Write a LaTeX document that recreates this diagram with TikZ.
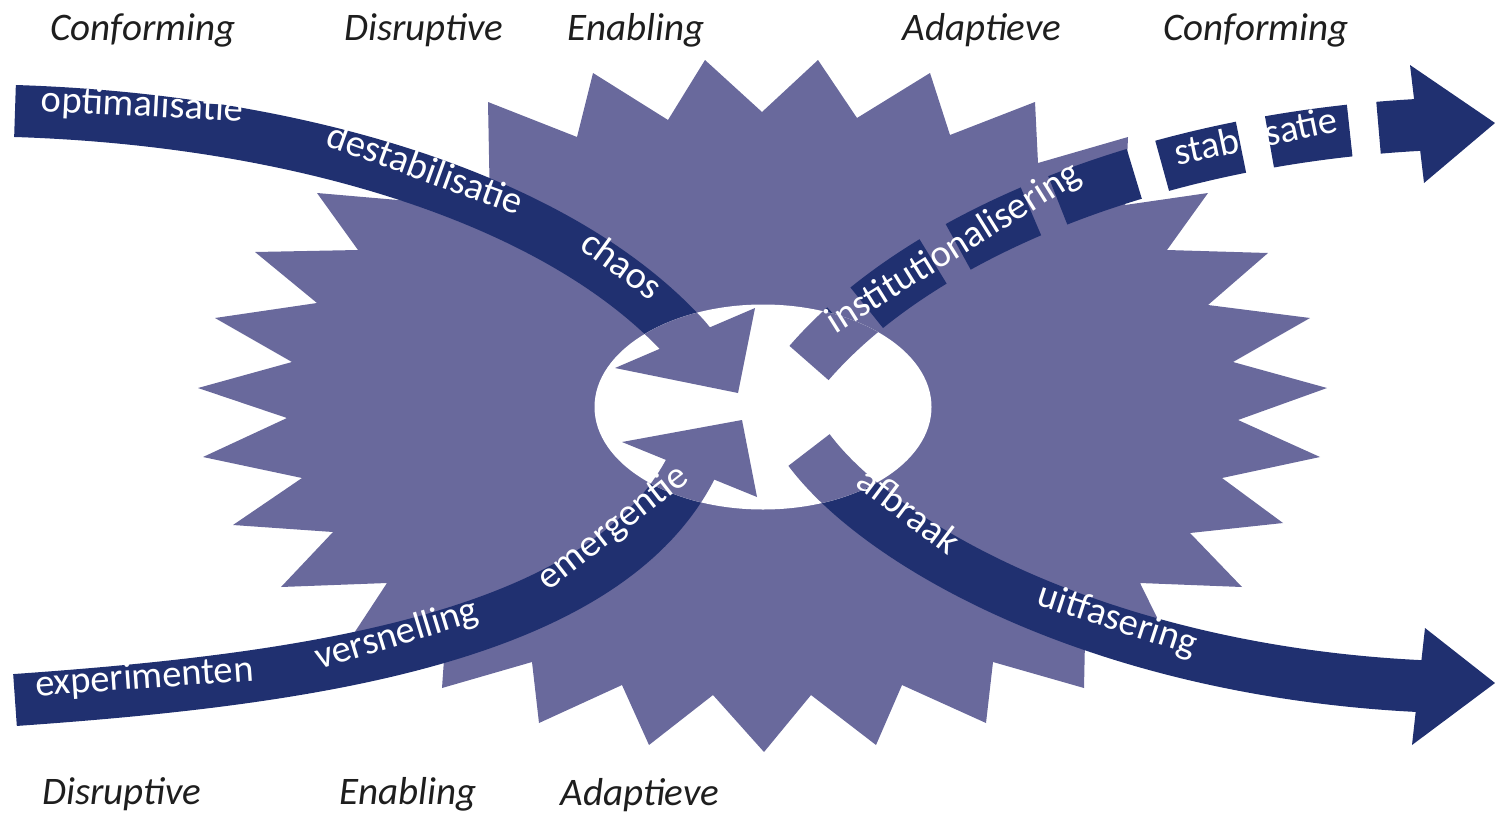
\documentclass[tikz,border=0pt]{standalone}
\usepackage{fontspec}
\setmainfont{Carlito}
\definecolor{starcol}{RGB}{105,105,156}
\definecolor{navy}{RGB}{32,48,112}
\definecolor{lblcol}{RGB}{30,30,30}
\begin{document}
\begin{tikzpicture}[x=1pt,y=-1pt,
  band/.style={line width=52pt, draw=navy},
  inband/.style={line width=52pt, draw=starcol},
  bandtxt/.style={text=white, font=\fontsize{38.5}{40}\selectfont, inner sep=0pt, anchor=mid},
  lbl/.style={text=lblcol, font=\fontsize{39}{41}\selectfont\itshape, inner sep=0pt, anchor=base}]
\useasboundingbox (0,0) rectangle (1495,814);

\coordinate (aS) at (15,111);
\coordinate (aE) at (685,338);
\coordinate (aX) at (695,350);
\coordinate (bS) at (15,700);
\coordinate (bE) at (690,470);
\coordinate (bX) at (696,458);
\coordinate (cS) at (809,363);
\coordinate (cE) at (1417,125);
\coordinate (cX) at (1425,124);
\coordinate (dS) at (809,450);
\coordinate (dE) at (1418,686);
\coordinate (dX) at (1426,686);
\coordinate (hole) at (763,407);

% star
\fill[starcol] (317,193) -- (490,208) -- (488,102) -- (577,137) -- (593,73) -- (668,120)
  -- (705,60) -- (762,112) -- (818,60) -- (857,118) -- (930,73) -- (950,135)
  -- (1035,102) -- (1038,163) -- (1128,137) -- (1125,205) -- (1208,193) -- (1167,250)
  -- (1268,253) -- (1208,305) -- (1310,318) -- (1233,362) -- (1327,388) -- (1238,420)
  -- (1320,457) -- (1222,478) -- (1283,523) -- (1190,533) -- (1242,587) -- (1140,583)
  -- (1172,648) -- (1085,640) -- (1084,688) -- (993,662) -- (986,723) -- (902,685)
  -- (876,745) -- (811,695) -- (764,752) -- (713,695) -- (649,745) -- (622,685)
  -- (539,723) -- (532,662) -- (442,688) -- (445,645) -- (343,650) -- (387,583)
  -- (281,587) -- (333,532) -- (233,525) -- (302,478) -- (203,457) -- (287,418)
  -- (198,388) -- (292,362) -- (215,318) -- (317,303) -- (255,252) -- (358,250) -- cycle;

% bands
\draw[band] (aS) .. controls (300,120) and (560,200) .. (aE) -- (aX);
\draw[band] (bS) .. controls (300,680) and (600,640) .. (bE) -- (bX);
\draw[band] (dS) .. controls (880,545) and (1100,670) .. (dE) -- (dX);
\draw[band, dash pattern=on 81pt off 29pt, dash phase=30pt] (cS) .. controls (920,235) and (1150,140) .. (cE) -- (cX);
\fill[navy] (1410,65) -- (1495,123) -- (1424,183) -- cycle;
\fill[navy] (1425,628) -- (1495,683) -- (1412,745) -- cycle;

% hole
\fill[white] (hole) ellipse [x radius=168.5pt, y radius=102.5pt];
\begin{scope}
\clip (hole) ellipse [x radius=168.5pt, y radius=102.5pt];
\draw[inband] (aS) .. controls (300,120) and (560,200) .. (aE) -- (aX);
\draw[inband] (bS) .. controls (300,680) and (600,640) .. (bE) -- (bX);
\draw[inband] (dS) .. controls (880,545) and (1100,670) .. (dE) -- (dX);
\draw[inband] (cS) .. controls (920,235) and (1150,140) .. (cE) -- (cX);
\end{scope}
\fill[starcol] (615,368) -- (755,308) -- (738,393) -- cycle;
\fill[starcol] (622,442) -- (757,497) -- (742,420) -- cycle;

% band words
\node[bandtxt, rotate=-3] (tOpt) at (142,114) {optimalisatie};
\node[bandtxt, rotate=-20] (tDest) at (422,178) {destabilisatie};
\node[bandtxt, rotate=-36] (tChaos) at (616,273) {chaos};
\node[bandtxt, rotate=4] (tExp) at (145,686) {experimenten};
\node[bandtxt, rotate=17] (tVers) at (399,643) {versnelling};
\node[bandtxt, rotate=38] (tEmer) at (618,534) {emergentie};
\node[bandtxt, rotate=32] (tInst) at (958,255) {institutionalisering};
\node[bandtxt, rotate=12] (tStab) at (1258,146) {stabilisatie};
\node[bandtxt, rotate=-37] (tAfb) at (903,519) {afbraak};
\node[bandtxt, rotate=-18] (tUit) at (1115,628) {uitfasering};

% labels
\node[lbl] (lT1) at (143,40) {Conforming};
\node[lbl] (lT2) at (424,40) {Disruptive};
\node[lbl] (lT3) at (636,40) {Enabling};
\node[lbl] (lT4) at (982,40) {Adaptieve};
\node[lbl] (lT5) at (1256,40) {Conforming};
\node[lbl] (lB1) at (122,804) {Disruptive};
\node[lbl] (lB2) at (408,804) {Enabling};
\node[lbl] (lB3) at (640,805) {Adaptieve};
\end{tikzpicture}
\end{document}
